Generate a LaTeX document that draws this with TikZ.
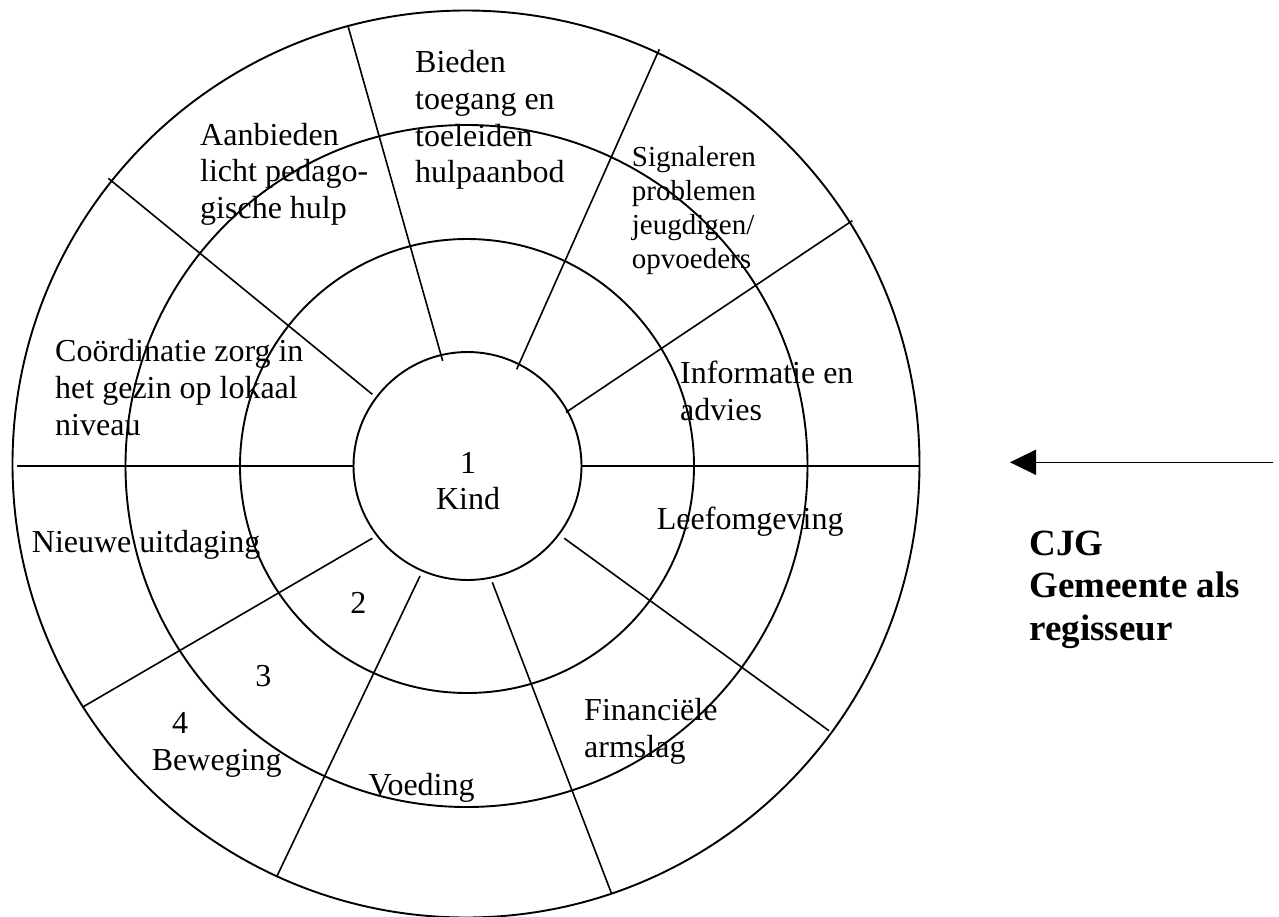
\documentclass[tikz,border=0pt]{standalone}
\usepackage{fontspec}
\setmainfont{Liberation Serif}
\usetikzlibrary{arrows.meta}
\begin{document}
\begin{tikzpicture}[x=1pt,y=-1pt,
  ring/.style={line width=1.9pt},
  spoke/.style={line width=1.6pt},
  lbl/.style={anchor=base west,inner sep=0pt,font=\fontsize{32}{36.7}\selectfont},
  smalllbl/.style={anchor=base west,inner sep=0pt,font=\fontsize{29}{34}\selectfont},
  num/.style={anchor=base,inner sep=0pt,font=\fontsize{32}{36.7}\selectfont},
  boldlbl/.style={anchor=base west,inner sep=0pt,font=\bfseries\fontsize{37}{42.5}\selectfont}]
\useasboundingbox (0,0) rectangle (1279,916);
% rings
\draw[ring] (466,464) circle[radius=453.5pt];
\draw[ring] (466.5,466) circle[radius=341pt];
\draw[ring] (467,466) circle[radius=227pt];
\draw[ring] (467.5,466) circle[radius=114pt];
% spokes
\coordinate (s1i) at (372.3,394.3); \coordinate (s1o) at (108.3,178.3);
\coordinate (s2i) at (442.7,361);   \coordinate (s2o) at (347.7,25);
\coordinate (s3i) at (516.7,369.3); \coordinate (s3o) at (659.3,49.3);
\coordinate (s4i) at (566,412.3);   \coordinate (s4o) at (852.3,220.7);
\coordinate (s5i) at (582,466);     \coordinate (s5o) at (919.3,466);
\coordinate (s6i) at (564.3,538.3); \coordinate (s6o) at (829,730.7);
\coordinate (s7i) at (492.3,582.3); \coordinate (s7o) at (611.7,894);
\coordinate (s8i) at (420,576);     \coordinate (s8o) at (276.7,876.7);
\coordinate (s9i) at (372.3,538.3); \coordinate (s9o) at (83.3,706.7);
\coordinate (s10i) at (354,466);    \coordinate (s10o) at (16.7,466);
\foreach \k in {1,...,10} {\draw[spoke] (s\k i) -- (s\k o);}
% labels
\node[lbl] (bieden) at (415,72.7) {\vtop{\hbox{Bieden}\hbox{toegang en}\hbox{toeleiden}\hbox{hulpaanbod}}};
\node[lbl] (aanbieden) at (200,145) {\vtop{\hbox{Aanbieden}\hbox{licht pedago-}\hbox{gische hulp}}};
\node[smalllbl] (signaleren) at (631.7,166.7) {\vtop{\hbox{Signaleren}\hbox{problemen}\hbox{jeugdigen/}\hbox{opvoeders}}};
\node[lbl] (informatie) at (680,383.3) {\vtop{\hbox{Informatie en}\hbox{advies}}};
\node[lbl] (coord) at (55,361.7) {\vtop{\hbox{Coördinatie zorg in}\hbox{het gezin op lokaal}\hbox{niveau}}};
\node[num] (kind) at (468,473) {\vtop{\halign{\hfil#\hfil\cr 1\cr Kind\cr}}};
\node[lbl] (leef) at (656.7,529.3) {Leefomgeving};
\node[lbl] (nieuwe) at (31.7,552.7) {Nieuwe uitdaging};
\node[num] (n2) at (358.3,613.3) {2};
\node[num] (n3) at (263.3,686) {3};
\node[num] (n4) at (180,733.3) {4};
\node[lbl] (beweging) at (151.7,770) {Beweging};
\node[lbl] (voeding) at (368.3,795) {Voeding};
\node[lbl] (fin) at (584,720.7) {\vtop{\hbox{Financiële}\hbox{armslag}}};
\node[boldlbl] (cjg) at (1029.3,555) {\vtop{\hbox{CJG}\hbox{Gemeente als}\hbox{regisseur}}};
% arrow
\coordinate (arrS) at (1273.3,462.3);
\coordinate (arrE) at (1010,462.3);
\draw[line width=1.6pt,-{Triangle[length=26pt,width=25pt]}] (arrS) -- (arrE);
\end{tikzpicture}
\end{document}
